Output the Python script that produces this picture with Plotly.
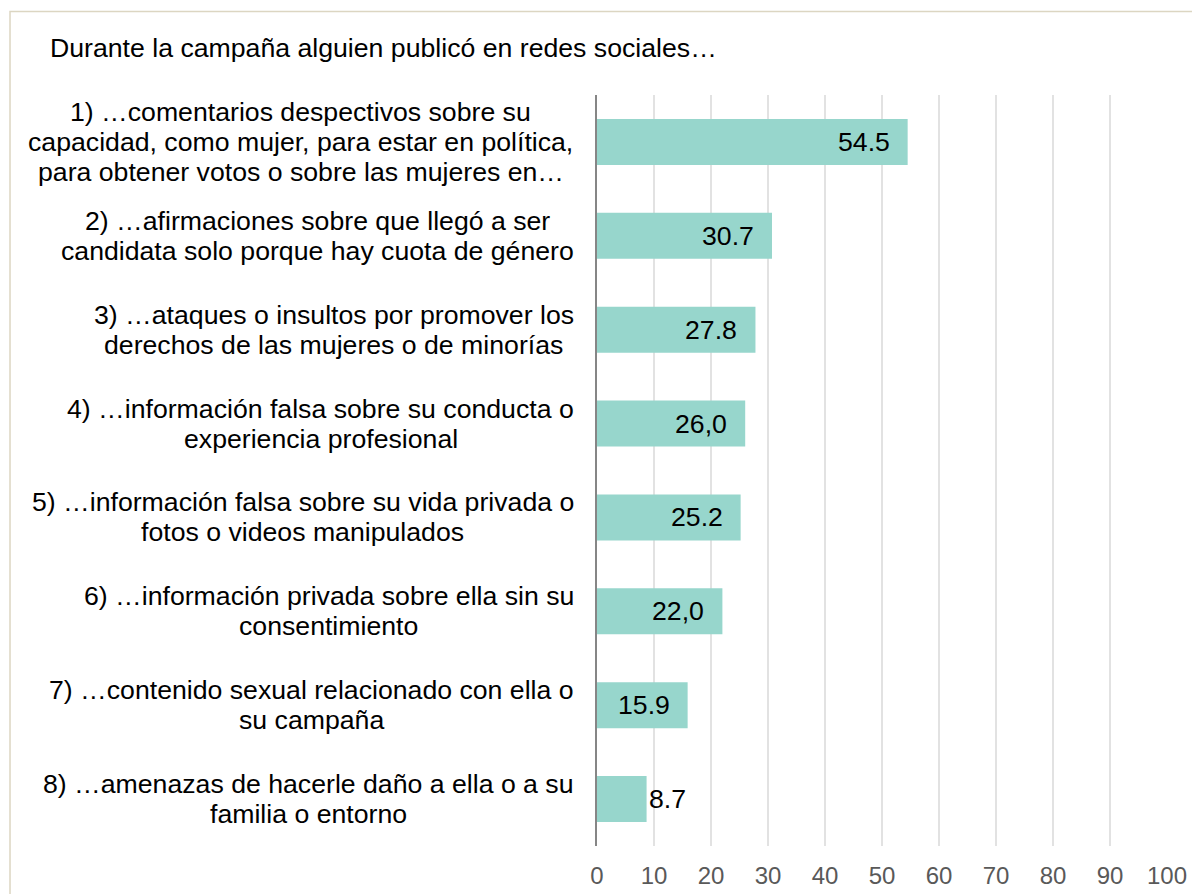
import plotly.graph_objects as go

title_text = "Durante la campaña alguien publicó en redes sociales…"
category_lines = [
    ["1) …comentarios despectivos sobre su",
     "capacidad, como mujer, para estar en política,",
     "para obtener votos o sobre las mujeres en…"],
    ["2) …afirmaciones sobre que llegó a ser",
     "candidata solo porque hay cuota de género"],
    ["3) …ataques o insultos por promover los",
     "derechos de las mujeres o de minorías"],
    ["4) …información falsa sobre su conducta o",
     "experiencia profesional"],
    ["5) …información falsa sobre su vida privada o",
     "fotos o videos manipulados"],
    ["6) …información privada sobre ella sin su",
     "consentimiento"],
    ["7) …contenido sexual relacionado con ella o",
     "su campaña"],
    ["8) …amenazas de hacerle daño a ella o a su",
     "familia o entorno"],
]
values = [54.5, 30.7, 27.8, 26.0, 25.2, 22.0, 15.9, 8.7]
value_labels = ["54.5", "30.7", "27.8", "26,0", "25.2", "22,0", "15.9", "8.7"]
x_ticks = [0, 10, 20, 30, 40, 50, 60, 70, 80, 90, 100]

FONT = "Arial, Liberation Sans, sans-serif"
FS = 26.67           # 20pt
LINE_GAP = 30.0      # line spacing of category labels, px
LABEL_GAP = 23       # gap between label block and the axis, px

# Arial advance widths (1/1000 em) used to centre the multi-line label blocks
_W = dict(zip("abcdefghijklmnopqrstuvwxyz",
              [556, 556, 500, 556, 556, 278, 556, 556, 222, 222, 500, 222, 833,
               556, 556, 556, 556, 333, 500, 278, 556, 500, 722, 500, 500, 500]))
_W.update({"á": 556, "é": 556, "í": 278, "ó": 556, "ú": 556, "ñ": 556,
           " ": 278, ",": 278, ".": 278, ")": 333, "(": 333, "…": 1000})
for d in "0123456789":
    _W[d] = 556


def text_width(s):
    return sum(_W.get(c, 556) for c in s) * FS / 1000.0


ids = [str(i) for i in range(len(category_lines))]

fig = go.Figure()
fig.add_trace(go.Bar(
    x=values, y=ids, orientation="h",
    marker=dict(color="#97d6cc", line=dict(width=0)),
    hoverinfo="skip",
))

annotations = []
# category labels: centred multi-line blocks, right edge near the axis
for k, lines in enumerate(category_lines):
    n = len(lines)
    block_w = max(text_width(ln) for ln in lines)
    for i, ln in enumerate(lines):
        off = i - (n - 1) / 2
        annotations.append(dict(
            x=0, y=ids[k], xref="paper", yref="y", text=ln,
            showarrow=False, xanchor="center", yanchor="middle",
            xshift=-(LABEL_GAP + block_w / 2), yshift=-off * LINE_GAP,
            font=dict(family=FONT, size=FS, color="#000000"),
        ))

# value labels
for i, (v, lab) in enumerate(zip(values, value_labels)):
    inside = v > 12
    annotations.append(dict(
        x=v, y=ids[i], xref="x", yref="y", text=lab, showarrow=False,
        xanchor="right" if inside else "left",
        xshift=-16 if inside else 0,
        font=dict(family=FONT, size=FS, color="#000000"),
    ))

annotations.append(dict(
    x=-0.963, y=1.0626, xref="paper", yref="paper", text=title_text,
    showarrow=False, xanchor="left", yanchor="middle",
    font=dict(family=FONT, size=FS, color="#000000"),
))

fig.update_layout(
    width=1192, height=886,
    margin=dict(l=589, r=33, t=87, b=48, autoexpand=False),
    paper_bgcolor="white", plot_bgcolor="white",
    showlegend=False,
    bargap=0.51,
    font=dict(family=FONT, size=24, color="#000000"),
    annotations=annotations,
    shapes=[dict(
        type="rect", xref="paper", yref="paper",
        x0=-1.0298, x1=1.2, y0=1.1112, y1=-0.2,
        line=dict(color="#dcd6c2", width=1.5), fillcolor="rgba(0,0,0,0)",
        layer="below",
    )],
)
fig.update_xaxes(
    range=[0, 100], tickvals=x_ticks, ticktext=[str(t) for t in x_ticks],
    showgrid=True, gridcolor="#e2e2e2", gridwidth=2,
    zeroline=False, showline=False, automargin=False,
    ticks="outside", ticklen=8, tickcolor="rgba(0,0,0,0)",
    tickfont=dict(family=FONT, size=24, color="#595959"),
    fixedrange=True,
)
fig.update_yaxes(
    autorange="reversed", tickvals=ids, showticklabels=False,
    showgrid=False, zeroline=False, automargin=False,
    showline=True, linecolor="#868686", linewidth=2,
    ticks="", fixedrange=True,
)

fig.write_html("out.html")
